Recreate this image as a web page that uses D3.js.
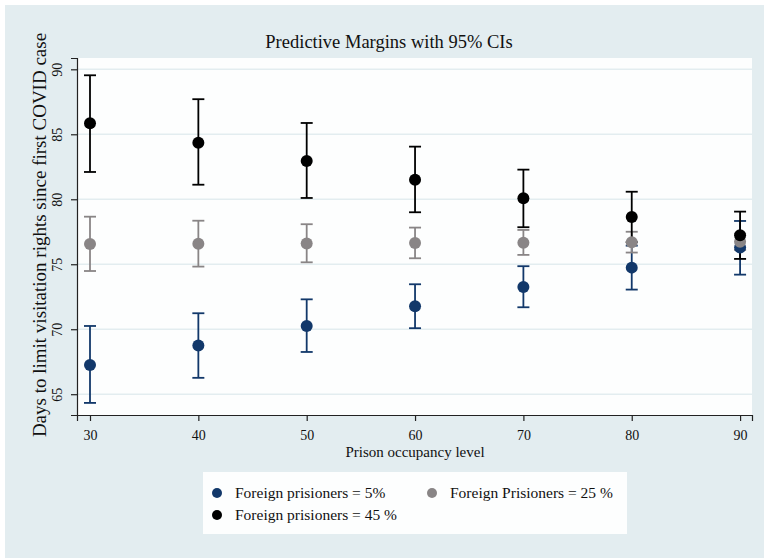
<!DOCTYPE html>
<html>
<head>
<meta charset="utf-8">
<script src="https://cdn.jsdelivr.net/npm/d3@7"></script>
<style>
  body { margin: 0; background: #fff; }
  text { font-family: "Liberation Serif", "Times New Roman", serif; fill: #111; }
</style>
</head>
<body>
<svg id="chart"></svg>
<script>
// Prison occupancy levels on the x axis
const occupancy = [30, 40, 50, 60, 70, 80, 90];

// Predictive margins and 95% CI bounds, one array per group
const margin5 = [67.25, 68.74, 70.25, 71.77, 73.25, 74.74, 76.28];
const lower5 = [64.33, 66.26, 68.25, 70.08, 71.69, 73.05, 74.20];
const upper5 = [70.25, 71.23, 72.30, 73.46, 74.85, 76.43, 78.33];

const margin25 = [76.56, 76.58, 76.60, 76.63, 76.66, 76.70, 76.73];
const lower25 = [74.48, 74.82, 75.15, 75.46, 75.72, 75.90, 76.10];
const upper25 = [78.66, 78.35, 78.08, 77.82, 77.64, 77.50, 77.35];

const margin45 = [85.85, 84.35, 82.95, 81.51, 80.08, 78.64, 77.23];
const lower45 = [82.10, 81.12, 80.10, 79.00, 77.85, 76.70, 75.41];
const upper45 = [89.54, 87.70, 85.87, 84.05, 82.28, 80.58, 79.05];

const yTicks = [65, 70, 75, 80, 85, 90];

const groups = [
    {label: "Foreign prisioners = 5%", color: "#12386a", mid: margin5, lo: lower5, hi: upper5},
    {label: "Foreign Prisioners = 25 %", color: "#898586", mid: margin25, lo: lower25, hi: upper25},
    {label: "Foreign prisioners = 45 %", color: "#000000", mid: margin45, lo: lower45, hi: upper45}
];

const W = 764, H = 558;
const plot = {left: 77, right: 752, top: 58, bottom: 415};

const svg = d3.select("#chart").attr("width", W).attr("height", H);

// Graph region background
svg.append("rect")
    .attr("x", 5).attr("y", 5)
    .attr("width", W - 5).attr("height", H - 5)
    .attr("fill", "#e3edf0");

// Plot region
svg.append("rect")
    .attr("x", plot.left).attr("y", plot.top)
    .attr("width", plot.right - plot.left).attr("height", plot.bottom - plot.top)
    .attr("fill", "#fdfefe");

const x = d3.scaleLinear().domain([28.8, 91.1]).range([plot.left, plot.right]);
const y = d3.scaleLinear().domain([63.4, 90.87]).range([plot.bottom, plot.top]);

// Grid lines
svg.append("g")
    .selectAll("line")
    .data(yTicks)
    .join("line")
    .attr("x1", plot.left).attr("x2", plot.right)
    .attr("y1", d => y(d)).attr("y2", d => y(d))
    .attr("stroke", "#e3edf0")
    .attr("stroke-width", 1.5);

// Y axis with rotated tick labels
const yAxis = svg.append("g")
    .attr("transform", `translate(${plot.left},0)`)
    .call(d3.axisLeft(y).tickValues(yTicks).tickSize(6).tickPadding(0).tickFormat(d3.format("d")));
yAxis.select(".domain").attr("stroke", "#222").attr("stroke-width", 1.2);
yAxis.selectAll(".tick line").attr("stroke", "#222").attr("stroke-width", 1.2);
yAxis.selectAll(".tick text")
    .attr("x", 0).attr("dy", 0)
    .attr("transform", "translate(-15,0) rotate(-90)")
    .attr("text-anchor", "middle")
    .style("font-size", "14px")
    .style("font-family", "Liberation Serif, serif")
    .attr("fill", "#111");

// X axis
const xAxis = svg.append("g")
    .attr("transform", `translate(0,${plot.bottom})`)
    .call(d3.axisBottom(x).tickValues(occupancy).tickSize(6).tickPadding(9).tickFormat(d3.format("d")));
xAxis.select(".domain").attr("stroke", "#222").attr("stroke-width", 1.2);
xAxis.selectAll(".tick line").attr("stroke", "#222").attr("stroke-width", 1.2);
xAxis.selectAll(".tick text")
    .style("font-size", "14px")
    .style("font-family", "Liberation Serif, serif")
    .attr("fill", "#111");

const rowsOf = g => occupancy.map((o, i) => ({o, mid: g.mid[i], lo: g.lo[i], hi: g.hi[i]}));

// Confidence interval caps for every group first
const capHalf = 6;
groups.forEach(g => {
    const layer = svg.append("g");
    const rows = rowsOf(g);

    layer.selectAll(".bar")
        .data(rows)
        .join("line")
        .attr("x1", d => x(d.o)).attr("x2", d => x(d.o))
        .attr("y1", d => y(d.lo)).attr("y2", d => y(d.hi))
        .attr("stroke", g.color).attr("stroke-width", 1.8);

    ["lo", "hi"].forEach(k => {
        layer.selectAll(".cap-" + k)
            .data(rows)
            .join("line")
            .attr("x1", d => x(d.o) - capHalf).attr("x2", d => x(d.o) + capHalf)
            .attr("y1", d => y(d[k])).attr("y2", d => y(d[k]))
            .attr("stroke", g.color).attr("stroke-width", 1.8);
    });
});

// Then the margin points on top
groups.forEach(g => {
    svg.append("g")
        .selectAll("circle")
        .data(rowsOf(g))
        .join("circle")
        .attr("cx", d => x(d.o)).attr("cy", d => y(d.mid))
        .attr("r", 6)
        .attr("fill", g.color);
});

// Title
svg.append("text")
    .attr("x", 389)
    .attr("y", 48)
    .attr("text-anchor", "middle")
    .style("font-size", "18.5px")
    .text("Predictive Margins with 95% CIs");

// Axis titles
svg.append("text")
    .attr("x", 415)
    .attr("y", 457)
    .attr("text-anchor", "middle")
    .style("font-size", "15px")
    .text("Prison occupancy level");

svg.append("text")
    .attr("transform", `translate(46,${235}) rotate(-90)`)
    .attr("text-anchor", "middle")
    .style("font-size", "19px")
    .text("Days to limit visitation rights since first COVID case");

// Legend
const legend = svg.append("g");
legend.append("rect")
    .attr("x", 203).attr("y", 472)
    .attr("width", 424).attr("height", 62)
    .attr("fill", "#fdfefe");

const legendPos = [[217, 493], [432, 493], [217, 515]];
groups.forEach((g, i) => {
    const [lx, ly] = legendPos[i];
    legend.append("circle")
        .attr("cx", lx).attr("cy", ly).attr("r", 5)
        .attr("fill", g.color);
    legend.append("text")
        .attr("x", lx + 18).attr("y", ly + 5)
        .style("font-size", "15.5px")
        .text(g.label);
});
</script>
</body>
</html>
